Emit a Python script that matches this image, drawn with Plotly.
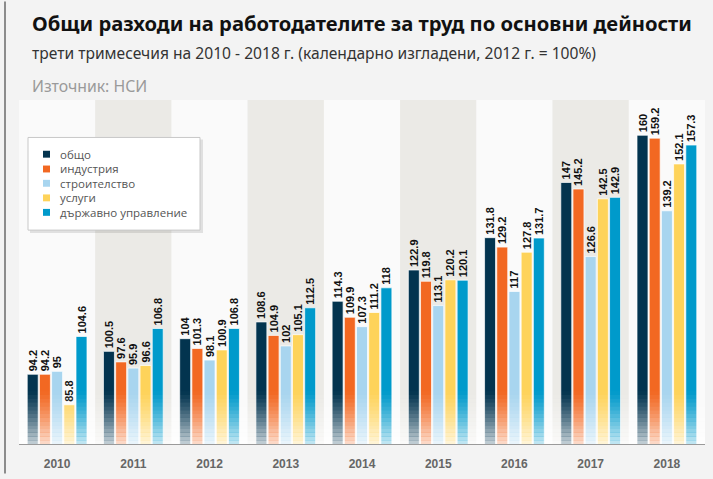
import plotly.graph_objects as go

years = ["2010", "2011", "2012", "2013", "2014", "2015", "2016", "2017", "2018"]
series_names = ["общо", "индустрия", "строителство", "услуги", "държавно управление"]
obshto = [94.2, 100.5, 104, 108.6, 114.3, 122.9, 131.8, 147, 160]
industria = [94.2, 97.6, 101.3, 104.9, 109.9, 119.8, 129.2, 145.2, 159.2]
stroitelstvo = [95, 95.9, 98.1, 102, 107.3, 113.1, 117, 126.6, 139.2]
uslugi = [85.8, 96.6, 100.9, 105.1, 111.2, 120.2, 127.8, 142.5, 152.1]
darzhavno = [104.6, 106.8, 106.8, 112.5, 118, 120.1, 131.7, 142.9, 157.3]
values = [obshto, industria, stroitelstvo, uslugi, darzhavno]
colors = ["#03344f", "#f26822", "#a8d5ef", "#fed35a", "#009acb"]

title = "Общи разходи на работодателите за труд по основни дейности"
subtitle = "трети тримесечия на 2010 - 2018 г. (календарно изгладени, 2012 г. = 100%)"
source = "Източник: НСИ"

W, H = 713, 479
L, R, T, B = 19, 8, 100, 30
PW, PH = W - L - R, H - T - B


def px(x):
    return (x - L) / PW


def py(y):
    return (H - B - y) / PH


fig = go.Figure()
for name, vals, col in zip(series_names, values, colors):
    fig.add_trace(go.Bar(
        x=years, y=vals, name=name, marker_color=col,
        marker_line=dict(color="rgba(255,255,255,0.7)", width=1),
        texttemplate="%{y}", textposition="outside", textangle=-90,
        constraintext="none",
        textfont=dict(family="Liberation Sans", size=11, color="#111111", weight="bold"),
        cliponaxis=False, showlegend=False,
    ))

shapes = []
# alternating background bands
for i in range(len(years)):
    fill = "#ebeae6" if i % 2 == 1 else "rgba(255,255,255,0.55)"
    shapes.append(dict(type="rect", xref="x", yref="paper", x0=i - 0.5, x1=i + 0.5,
                       y0=0, y1=1, fillcolor=fill, line_width=0, layer="below"))
# bottom fade overlay
n = 14
y_lo, y_hi = 75, 89.5
for k in range(n):
    y0 = y_lo + (y_hi - y_lo) * k / n
    y1 = y_lo + (y_hi - y_lo) * (k + 1) / n
    op = 0.78 * (1 - (k + 0.5) / n) ** 1.2
    shapes.append(dict(type="rect", xref="paper", yref="y", x0=0, x1=1, y0=y0, y1=y1,
                       fillcolor="white", opacity=op, line_width=0, layer="above"))
# left frame line
shapes.append(dict(type="line", xref="paper", yref="paper", x0=px(5), x1=px(5),
                   y0=py(0), y1=py(479), line=dict(color="#8c8c8c", width=2)))
# legend box
shapes.append(dict(type="rect", xref="paper", yref="paper", x0=px(30), x1=px(203),
                   y0=py(140), y1=py(235), fillcolor="rgba(0,0,0,0.10)", line_width=0))
shapes.append(dict(type="rect", xref="paper", yref="paper", x0=px(28), x1=px(200),
                   y0=py(138), y1=py(232), fillcolor="white",
                   line=dict(color="#c8c8c8", width=1)))

annotations = [
    dict(text="<b>" + title + "</b>", x=px(30), y=py(22), xref="paper", yref="paper",
         xanchor="left", yanchor="middle", showarrow=False,
         font=dict(family="Noto Sans", size=20.2, color="#111111")),
    dict(text=subtitle, x=px(30), y=py(52), xref="paper", yref="paper",
         xanchor="left", yanchor="middle", showarrow=False,
         font=dict(family="Noto Sans", size=15.6, color="#333333")),
    dict(text=source, x=px(30), y=py(86), xref="paper", yref="paper",
         xanchor="left", yanchor="middle", showarrow=False,
         font=dict(family="Noto Sans", size=15.8, color="#9a9a9a")),
]
leg_y = [155, 170, 184.5, 199.3, 214]
for name, col, yc in zip(series_names, colors, leg_y):
    shapes.append(dict(type="rect", xref="paper", yref="paper", x0=px(43), x1=px(50),
                       y0=py(yc + 3.5), y1=py(yc - 3.5), fillcolor=col, line_width=0))
    annotations.append(dict(text=name, x=px(58), y=py(yc), xref="paper", yref="paper",
                            xanchor="left", yanchor="middle", showarrow=False,
                            font=dict(family="Open Sans", size=11.5, color="#555555")))

fig.update_layout(
    width=W, height=H,
    margin=dict(l=L, r=R, t=T, b=B),
    paper_bgcolor="#f3f3f3", plot_bgcolor="rgba(0,0,0,0)",
    barmode="group", bargap=0.2, bargroupgap=0.1,
    shapes=shapes, annotations=annotations, showlegend=False,
    xaxis=dict(type="category", showline=True, linecolor="#9a9a9a", linewidth=1,
               ticks="outside", ticklen=9, tickcolor="rgba(0,0,0,0)",
               tickfont=dict(family="Liberation Sans", size=12, color="#666666"),
               tickprefix="<b>", ticksuffix="</b>", showgrid=False),
    yaxis=dict(visible=False, range=[75, 169.7], showgrid=False),
)

fig.write_html("out.html", config={"displayModeBar": False},
               post_script="document.body.style.margin='0';")
